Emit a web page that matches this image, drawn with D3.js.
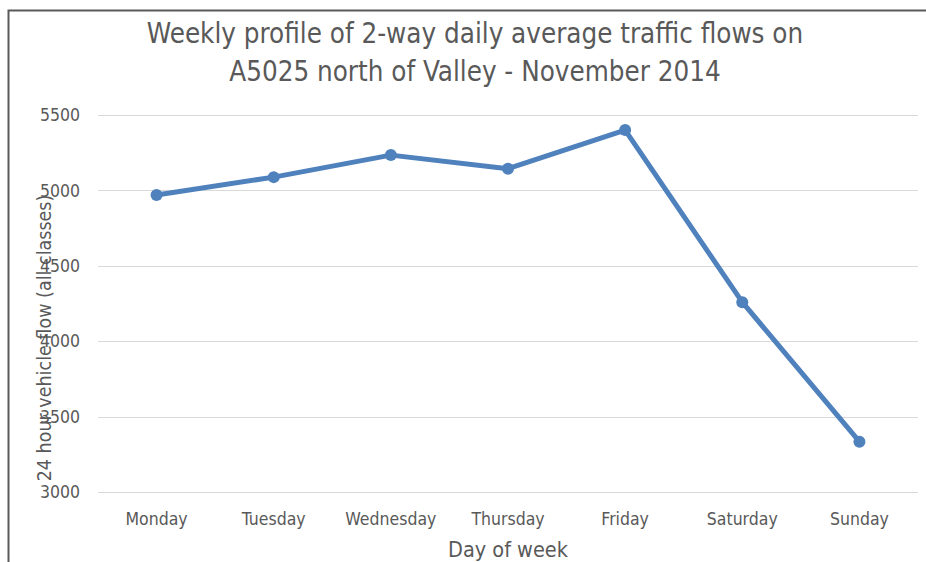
<!DOCTYPE html>
<html>
<head>
<meta charset="utf-8">
<script src="https://cdn.jsdelivr.net/npm/d3@7"></script>
<style>
  body { margin: 0; background: #fff; }
  text { font-family: "Liberation Sans Narrow", "DejaVu Sans Condensed", "Open Sans", sans-serif; }
</style>
</head>
<body>
<svg id="chart"></svg>
<script>
// chart data
var days = ["Monday", "Tuesday", "Wednesday", "Thursday", "Friday", "Saturday", "Sunday"]
var flows = [4969, 5088, 5234, 5144, 5400, 4259, 3334]
var yTicks = [3000, 3500, 4000, 4500, 5000, 5500]

var width = 926,
    height = 562

var plotLeft = 98, plotRight = 918, plotTop = 115, plotBottom = 492

var svg = d3.select("#chart")
    .attr("width", width)
    .attr("height", height)

// frame (top and left edges show)
svg.append("path")
    .attr("d", "M8.5," + height + "V10.5H" + width)
    .attr("fill", "none")
    .attr("stroke", "#5a5a5a")
    .attr("stroke-width", 2)

var x = d3.scalePoint().domain(days).range([plotLeft, plotRight]).padding(0.5)
var y = d3.scaleLinear().domain([3000, 5500]).range([plotBottom, plotTop])

// gridlines
svg.append("g").selectAll("line").data(yTicks)
    .enter()
    .append("line")
    .attr("x1", plotLeft)
    .attr("x2", plotRight)
    .attr("y1", function(d){ return Math.round(y(d)) + 0.5 })
    .attr("y2", function(d){ return Math.round(y(d)) + 0.5 })
    .attr("stroke", "#d9d9d9")
    .attr("stroke-width", 1)

// y tick labels
svg.append("g").selectAll("text").data(yTicks)
    .enter()
    .append("text")
    .attr("x", 80)
    .attr("y", function(d){ return y(d) })
    .attr("dy", "0.35em")
    .attr("text-anchor", "end")
    .attr("fill", "#595959")
    .style("font-size", "17.5px")
    .text(function(d){ return d })

// x tick labels
svg.append("g").selectAll("text").data(days)
    .enter()
    .append("text")
    .attr("x", function(d){ return x(d) })
    .attr("y", 525)
    .attr("text-anchor", "middle")
    .attr("fill", "#595959")
    .style("font-size", "17.5px")
    .text(function(d){ return d })

// axis titles
svg.append("text")
    .attr("x", 508)
    .attr("y", 557)
    .attr("text-anchor", "middle")
    .attr("fill", "#595959")
    .style("font-size", "21.5px")
    .text("Day of week")

svg.append("text")
    .attr("transform", "translate(51,338) rotate(-90)")
    .attr("text-anchor", "middle")
    .attr("fill", "#595959")
    .style("font-size", "19.5px")
    .text("24 hour vehicle flow (all classes)")

// title
svg.append("text")
    .attr("x", 475)
    .attr("y", 43)
    .attr("text-anchor", "middle")
    .attr("fill", "#595959")
    .style("font-size", "27.5px")
    .text("Weekly profile of 2-way daily average traffic flows on")

svg.append("text")
    .attr("x", 475)
    .attr("y", 81)
    .attr("text-anchor", "middle")
    .attr("fill", "#595959")
    .style("font-size", "27.5px")
    .text("A5025 north of Valley - November 2014")

// line + markers
var line = d3.line()
    .x(function(d, i){ return x(days[i]) })
    .y(function(d){ return y(d) })

svg.append("path")
    .datum(flows)
    .attr("d", line)
    .attr("fill", "none")
    .attr("stroke", "#4f81bd")
    .attr("stroke-width", 5)
    .attr("stroke-linejoin", "round")

svg.append("g").selectAll("circle").data(flows)
    .enter()
    .append("circle")
    .attr("cx", function(d, i){ return x(days[i]) })
    .attr("cy", function(d){ return y(d) })
    .attr("r", 6)
    .attr("fill", "#4f81bd")
</script>
</body>
</html>
